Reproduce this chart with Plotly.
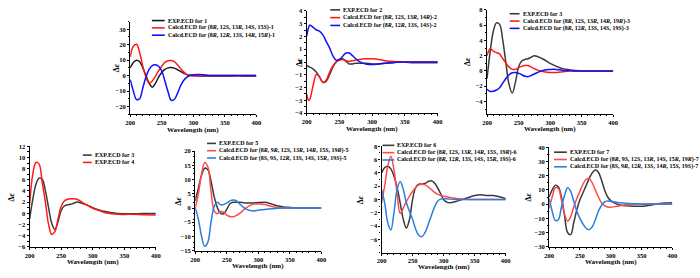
import plotly.graph_objects as go

W, H = 700, 278

# ---------------- data ----------------
wl1 = [200, 205, 210, 215, 220, 225, 230, 235, 240, 245, 250, 255, 260, 265, 270, 275, 280, 285, 290, 295, 300, 310, 320, 330, 340, 360, 380, 400]
exp1 = [5, 8.5, 10, 9, 5, 0, -5, -7.5, -5, -1, 2, 4, 5, 5.2, 4.8, 3.8, 2.6, 1.5, 0.6, 0.1, 0, -0.2, -0.3, -0.3, -0.3, -0.2, -0.2, -0.2]
calc1a = [12, 19, 20.3, 15, 6, -1, -5, -3.5, -0.5, 3, 6, 8.5, 9.6, 9.8, 9, 7, 4.5, 2.2, 0.7, 0, -0.2, 0, 0, 0, 0, 0, 0, 0]
calc1b = [-2.5, -10, -15.5, -15, -8, -1, 4, 6.5, 7, 6, 3, -3.5, -10.5, -16, -15.5, -11.5, -6.5, -3, -1, 0.2, 0.6, 0.7, 0.3, 0, 0, 0, 0, 0]
names1 = ["EXP.ECD for 1",
          "Calcd.ECD for (8<i>R</i>, 12<i>S</i>, 13<i>R</i>, 14<i>S</i>, 15<i>S</i>)-1",
          "Calcd.ECD for (8<i>R</i>, 12<i>R</i>, 13<i>S</i>, 14<i>R</i>, 15<i>R</i>)-1"]

wl2 = [200, 203, 205, 210, 215, 220, 225, 230, 235, 240, 245, 250, 255, 260, 265, 270, 275, 280, 290, 300, 310, 320, 330, 340, 360, 380, 400]
exp2 = [-0.3, -0.35, -0.4, -0.55, -0.8, -1.2, -1.6, -1.5, -1.0, -0.4, 0, 0.2, 0.25, 0.05, -0.15, -0.15, -0.1, -0.1, -0.1, -0.15, -0.15, -0.1, -0.05, 0, -0.05, -0.05, -0.05]
calc2a = [-2.5, -3, -2.9, -1.8, -0.95, -1.2, -1.6, -1.4, -0.8, -0.3, 0, 0.15, 0.2, 0.1, 0.05, 0.1, 0.15, 0.2, 0.25, 0.25, 0.2, 0.1, 0.05, 0, 0, 0, 0]
calc2b = [2.0, 2.7, 2.9, 2.7, 2.5, 2.4, 2.1, 1.6, 1.1, 0.5, 0.15, 0.2, 0.45, 0.7, 0.7, 0.5, 0.25, 0.05, -0.15, -0.2, -0.15, -0.1, -0.05, 0, 0, 0, 0]
names2 = ["EXP.ECD for 2",
          "Calcd.ECD for (8<i>R</i>, 12<i>S</i>, 13<i>R</i>, 14<i>R</i>)-2",
          "Calcd.ECD for (8<i>R</i>, 12<i>R</i>, 13<i>S</i>, 14<i>S</i>)-2"]

wl3 = [200, 205, 210, 215, 220, 225, 230, 235, 240, 245, 250, 255, 260, 265, 270, 275, 280, 290, 300, 310, 320, 330, 340, 360, 380, 400]
exp3 = [-1, 2.5, 5.2, 6.3, 6.1, 4, 1, -1.8, -2.9, -1.5, 0.5, 1.3, 1.5, 1.6, 1.8, 2, 1.9, 1.5, 1, 0.6, 0.3, 0.15, 0.05, 0, 0, 0]
calc3a = [2, 2.9, 2.6, 2.4, 2.2, 1.6, 1, 0.5, 0.2, 0.2, 0.4, 0.6, 0.7, 0.7, 0.5, 0.3, 0.1, -0.1, -0.2, -0.2, -0.1, 0, 0, 0, 0, 0]
calc3b = [-2.4, -2.7, -2.65, -2.5, -2.2, -1.6, -1, -0.5, -0.25, -0.2, -0.3, -0.5, -0.7, -0.75, -0.6, -0.4, -0.2, 0.1, 0.2, 0.2, 0.1, 0.05, 0, 0, 0, 0]
names3 = ["EXP.ECD for 3",
          "Calcd.ECD for (8<i>R</i>, 12<i>S</i>, 13<i>R</i>, 14<i>R</i>, 19<i>R</i>)-3",
          "Calcd.ECD for (8<i>R</i>, 12<i>R</i>, 13<i>S</i>, 14<i>S</i>, 19<i>S</i>)-3"]

wl4 = [200, 205, 210, 215, 220, 225, 230, 235, 240, 245, 250, 255, 260, 265, 270, 275, 280, 290, 300, 310, 320, 330, 340, 360, 380, 400]
exp4a = [-1, 2.5, 5.2, 6.3, 6.1, 4, 1, -1.8, -2.9, -1.5, 0.5, 1.3, 1.5, 1.6, 1.8, 2, 1.9, 1.5, 1, 0.6, 0.3, 0.1, -0.05, -0.1, -0.05, -0.05]
exp4b = [1.5, 7, 9.1, 8.8, 5.5, 2, -2, -3.8, -3.3, -1, 1.2, 2.2, 2.5, 2.6, 2.6, 2.5, 2.2, 1.5, 0.9, 0.5, 0.1, -0.1, -0.2, -0.2, -0.25, -0.3]
names4 = ["EXP.ECD for 3", "EXP.ECD for 4"]

wl5 = [200, 205, 210, 215, 220, 225, 230, 235, 240, 245, 250, 255, 260, 265, 270, 275, 280, 290, 300, 310, 320, 330, 340, 350, 360, 380, 400]
exp5 = [2.5, 7, 11.5, 14, 13.5, 9.5, 4, 0.2, -1.8, -2, -0.5, 1.5, 2, 2, 2, 1.9, 1.8, 1.8, 1.9, 2, 1.5, 0.8, 0.4, 0.2, 0.05, 0, 0]
calc5a = [0, 5, 12, 16, 14.5, 6, -1, -2, -1.2, -1.5, -2.5, -3, -3.1, -2.7, -2, -1, 0, 1.2, 1.5, 1.2, 0.6, 0.2, 0, 0, 0, 0, 0]
calc5b = [0, -4, -10, -13.5, -12, -5, 0.5, 2, 1.2, 1.2, 1.8, 2.5, 2.8, 2.6, 1.5, 0.5, -0.3, -1, -0.8, -0.5, -0.3, -0.1, 0, 0, 0, 0, 0]
names5 = ["EXP.ECD for 5",
          "Calcd.ECD for (8<i>R</i>, 9<i>R</i>, 12<i>S</i>, 13<i>R</i>, 14<i>R</i>, 15<i>S</i>, 19<i>R</i>)-5",
          "Calcd.ECD for (8<i>S</i>, 9<i>S</i>, 12<i>R</i>, 13<i>S</i>, 14<i>S</i>, 15<i>R</i>, 19<i>S</i>)-5"]

wl6 = [200, 205, 210, 215, 220, 225, 230, 235, 240, 245, 250, 255, 260, 265, 270, 275, 280, 285, 290, 295, 300, 305, 310, 320, 330, 340, 350, 360, 370, 380, 390, 400]
exp6 = [4, 4.8, 5, 4.6, 3.5, 1.8, -0.5, -3, -4.3, -3, 0, 1.8, 2.3, 2.3, 2.4, 2.7, 2.8, 2.5, 1.8, 0.9, 0, -0.4, -0.5, -0.3, 0, 0.3, 0.6, 0.7, 0.6, 0.6, 0.4, 0.1]
calc6a = [-0.5, 2, 5, 6.5, 4.5, 1, -2.1, -1.3, -0.3, 0.5, 1.2, 1.8, 2.2, 2.3, 2.2, 1.9, 1.5, 1.1, 0.8, 0.6, 0.5, 0.4, 0.3, 0.15, 0.05, 0, 0, 0, 0, 0, 0, 0]
calc6b = [1.5, -0.5, -3.5, -4.6, -2, 1.5, 2.7, 1.5, -0.5, -1.8, -3, -4.5, -5.4, -5.6, -5, -3.8, -2.5, -1.2, -0.3, 0.05, 0.1, 0.1, 0.05, 0, 0, 0, 0, 0, 0, 0, 0, 0]
names6 = ["EXP.ECD for 6",
          "Calcd.ECD for (8<i>R</i>, 12<i>S</i>, 13<i>R</i>, 14<i>R</i>, 15<i>S</i>, 19<i>R</i>)-6",
          "Calcd.ECD for (8<i>R</i>, 12<i>R</i>, 13<i>S</i>, 14<i>S</i>, 15<i>R</i>, 19<i>S</i>)-6"]

wl7 = [200, 205, 210, 215, 220, 225, 230, 235, 240, 245, 250, 255, 260, 265, 270, 275, 280, 285, 290, 295, 300, 310, 320, 330, 340, 350, 360, 370, 380, 390, 400]
exp7 = [5, 10, 13.2, 12, 5, -8, -20, -21.5, -13, -4, 3, 8, 13, 18, 22, 24, 22.5, 17, 10, 5, 2.5, 0, -1, -1.3, -1.5, -1.5, -1, -0.3, 0.5, 0.8, 1]
calc7a = [-3, 5, 11.5, 11, 3, -7, -12, -9, -2, 4, 9, 14, 17.5, 18, 15, 10, 5, 1, -1, -2, -2.2, -1.5, -0.8, -0.3, 0, 0, 0, 0, 0, 0, 0]
calc7b = [4, -5, -11.5, -11, -2, 6, 11.5, 9, 2, -5, -10, -14, -17, -18, -16, -11, -5, -1, 1.5, 2.2, 2, 1.2, 0.7, 0.4, 0.2, 0, 0, 0, 0, 0, 0]
names7 = ["EXP.ECD for 7",
          "Calcd.ECD for (8<i>R</i>, 9<i>S</i>, 12<i>S</i>, 13<i>R</i>, 14<i>S</i>, 15<i>R</i>, 19<i>R</i>)-7",
          "Calcd.ECD for (8<i>S</i>, 9<i>R</i>, 12<i>R</i>, 13<i>S</i>, 14<i>R</i>, 15<i>S</i>, 19<i>S</i>)-7"]

x_ticks = [200, 250, 300, 350, 400]

# ---------------- styling / layout ----------------
BLK = "#1a1a1a"
GRY = "#3a3a3a"
RED = "#ff1a1a"
BLU = "#1010ff"
RED2 = "#ff4a4a"
BLU2 = "#2a7ee0"

panels = [
    dict(wl=wl1, ser=[exp1, calc1a, calc1b], names=names1, col=[BLK, RED, BLU],
         box=(127, 18, 255, 113), yr=(-25, 35), yt=[-20, -10, 0, 10, 20, 30],
         leg=(149, 162, 17, 7.5), ytx=113, xty=129),
    dict(wl=wl2, ser=[exp2, calc2a, calc2b], names=names2, col=[GRY, RED, BLU],
         box=(306, 7, 439, 112), yr=(-4, 4), yt=[-4, -3, -2, -1, 0, 1, 2, 3, 4],
         leg=(330, 340, 6, 8), ytx=298, xty=128.5),
    dict(wl=wl3, ser=[exp3, calc3a, calc3b], names=names3, col=[GRY, RED, BLU],
         box=(489, 6, 617, 112.5), yr=(-5.6, 8), yt=[-4, -2, 0, 2, 4, 6, 8],
         leg=(512, 522, 10, 7.5), ytx=469, xty=128.5),
    dict(wl=wl4, ser=[exp4a, exp4b], names=names4, col=[GRY, RED],
         box=(25, 146, 153, 249), yr=(-6, 12), yt=[-6, -4, -2, 0, 2, 4, 6, 8, 10, 12],
         leg=(79, 88, 155, 7.5), ytx=7, xty=265),
    dict(wl=wl5, ser=[exp5, calc5a, calc5b], names=names5, col=[GRY, RED2, BLU2],
         box=(193, 151, 321, 253), yr=(-15, 20), yt=[-15, -10, -5, 0, 5, 10, 15, 20],
         leg=(205, 214, 143, 7.5), ytx=176, xty=268.5),
    dict(wl=wl6, ser=[exp6, calc6a, calc6b], names=names6, col=[GRY, RED2, BLU2],
         box=(382, 146, 508, 255), yr=(-8, 8), yt=[-6, -4, -2, 0, 2, 4, 6, 8],
         leg=(383, 395, 145, 7.5), ytx=361, xty=269.5),
    dict(wl=wl7, ser=[exp7, calc7a, calc7b], names=names7, col=[GRY, RED2, BLU2],
         box=(552, 147, 677, 249), yr=(-30, 40), yt=[-30, -20, -10, 0, 10, 20, 30, 40],
         leg=(557, 570, 152, 7.5), ytx=531, xty=265),
]

FONT = "Liberation Serif"
fig = go.Figure()
layout = dict(width=W, height=H, margin=dict(l=0, r=0, t=0, b=0),
              paper_bgcolor="white", plot_bgcolor="white", showlegend=False,
              font=dict(family=FONT, color="black"))
annotations = []
shapes = []

def px(x):
    return x / W

def py(y):
    return 1 - y / H

for i, p in enumerate(panels):
    k = "" if i == 0 else str(i + 1)
    x0, y0, x1, y1 = p["box"]
    for s, c in zip(p["ser"], p["col"]):
        fig.add_trace(go.Scatter(x=p["wl"], y=s, mode="lines",
                                 line=dict(color=c, width=1.5, shape="spline", smoothing=1.0),
                                 xaxis="x" + k, yaxis="y" + k, hoverinfo="skip"))
    axcommon = dict(showline=True, linecolor="black", linewidth=1.2, ticks="outside",
                    ticklen=2, tickwidth=1, tickcolor="black", showgrid=False, zeroline=False,
                    tickfont=dict(family=FONT, size=6.5, color="black", weight="bold"),
                    minor=dict(ticks="outside", ticklen=1.2, tickcolor="black"))
    layout["xaxis" + k] = dict(axcommon, domain=[px(x0), px(x1)], range=[200, 400],
                               tickvals=x_ticks, anchor="y" + k)
    layout["yaxis" + k] = dict(axcommon, domain=[py(y1), py(y0)], range=list(p["yr"]),
                               tickvals=p["yt"], anchor="x" + k)
    # axis titles
    annotations.append(dict(x=px((x0 + x1) / 2), y=py(p["xty"]), xref="paper", yref="paper",
                            text="<b>Wavelength (nm)</b>", showarrow=False,
                            xanchor="center", yanchor="middle",
                            font=dict(family=FONT, size=7, color="black")))
    annotations.append(dict(x=px(p["ytx"]), y=py((y0 + y1) / 2), xref="paper", yref="paper",
                            text="<b>Δ<i>ε</i></b>", showarrow=False, textangle=-90,
                            xanchor="center", yanchor="middle",
                            font=dict(family=FONT, size=8, color="black")))
    # legend
    lx0, lx1, ly, dy = p["leg"]
    for j, (nm, c) in enumerate(zip(p["names"], p["col"])):
        yy = ly + j * dy
        shapes.append(dict(type="line", xref="paper", yref="paper",
                           x0=px(lx0), x1=px(lx1), y0=py(yy), y1=py(yy),
                           line=dict(color=c, width=1.6)))
        annotations.append(dict(x=px(lx1 + 1), y=py(yy), xref="paper", yref="paper",
                                text="<b>" + nm + "</b>", showarrow=False,
                                xanchor="left", yanchor="middle",
                                font=dict(family=FONT, size=6, color="black")))

layout["annotations"] = annotations
layout["shapes"] = shapes
fig.update_layout(**layout)
fig.write_html("out.html", config={"displayModeBar": False},
               post_script="document.body.style.margin='0';document.body.style.padding='0';")
